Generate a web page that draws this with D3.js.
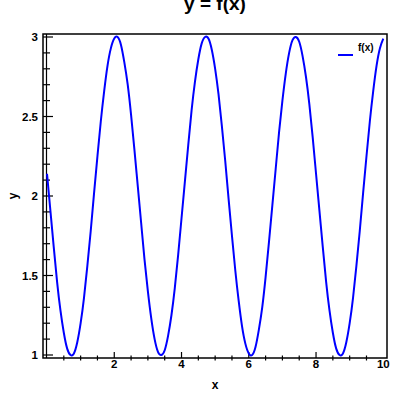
<!DOCTYPE html>
<html>
<head>
<meta charset="utf-8">
<script src="https://cdn.jsdelivr.net/npm/d3@7"></script>
<style>
  body { margin: 0; background: #fff; }
  text { font-family: "Liberation Sans", Arial, sans-serif; font-weight: bold; fill: #000; }
</style>
</head>
<body>
<svg id="chart" width="400" height="400"></svg>
<script>
// values, x step 0.1
const xValues = [0, 0.1, 0.2, 0.3, 0.4, 0.5, 0.6, 0.7, 0.8, 0.9,
  1, 1.1, 1.2, 1.3, 1.4, 1.5, 1.6, 1.7, 1.8, 1.9,
  2, 2.1, 2.2, 2.3, 2.4, 2.5, 2.6, 2.7, 2.8, 2.9,
  3, 3.1, 3.2, 3.3, 3.4, 3.5, 3.6, 3.7, 3.8, 3.9,
  4, 4.1, 4.2, 4.3, 4.4, 4.5, 4.6, 4.7, 4.8, 4.9,
  5, 5.1, 5.2, 5.3, 5.4, 5.5, 5.6, 5.7, 5.8, 5.9,
  6, 6.1, 6.2, 6.3, 6.4, 6.5, 6.6, 6.7, 6.8, 6.9,
  7, 7.1, 7.2, 7.3, 7.4, 7.5, 7.6, 7.7, 7.8, 7.9,
  8, 8.1, 8.2, 8.3, 8.4, 8.5, 8.6, 8.7, 8.8, 8.9,
  9, 9.1, 9.2, 9.3, 9.4, 9.5, 9.6, 9.7, 9.8, 9.9, 10];
const yValues = [2.14, 1.91, 1.68, 1.46, 1.28, 1.14, 1.04, 1.00, 1.01, 1.08,
  1.20, 1.36, 1.56, 1.78, 2.02, 2.25, 2.47, 2.66, 2.82, 2.93,
  2.99, 3.00, 2.95, 2.84, 2.70, 2.51, 2.29, 2.06, 1.83, 1.60,
  1.40, 1.23, 1.10, 1.02, 1.00, 1.03, 1.12, 1.25, 1.42, 1.63,
  1.86, 2.09, 2.32, 2.54, 2.72, 2.86, 2.96, 3.00, 2.99, 2.92,
  2.80, 2.64, 2.44, 2.22, 1.98, 1.75, 1.53, 1.34, 1.18, 1.07,
  1.01, 1.00, 1.05, 1.16, 1.30, 1.49, 1.71, 1.94, 2.17, 2.40,
  2.60, 2.77, 2.90, 2.98, 3.00, 2.97, 2.88, 2.75, 2.58, 2.37,
  2.14, 1.91, 1.68, 1.46, 1.28, 1.14, 1.04, 1.00, 1.01, 1.08,
  1.20, 1.36, 1.56, 1.78, 2.02, 2.25, 2.47, 2.66, 2.82, 2.93, 2.99];
const xTickLabels = [2, 4, 6, 8, 10];
const yTickLabels = [1, 1.5, 2, 2.5, 3];
const seriesName = "f(x)";

const svg = d3.select('#chart');
const frame = { left: 43, right: 387, top: 34, bottom: 358 };

const x = d3.scaleLinear().domain([0, 10]).range([47, 383.3]);
const y = d3.scaleLinear().domain([1, 3]).range([355, 37]);

// plot frame
svg.append('rect')
  .attr('x', frame.left).attr('y', frame.top)
  .attr('width', frame.right - frame.left)
  .attr('height', frame.bottom - frame.top)
  .attr('fill', 'none').attr('stroke', '#000').attr('stroke-width', 1.5);

// inner y axis line
svg.append('line')
  .attr('x1', 46.5).attr('x2', 46.5)
  .attr('y1', frame.top).attr('y2', frame.bottom)
  .attr('stroke', '#000').attr('stroke-width', 1.2);

// y ticks
const yMinor = d3.range(10, 31).map(d => d / 10);
svg.append('g').selectAll('line')
  .data(yMinor)
  .join('line')
  .attr('x1', frame.left)
  .attr('x2', d => yTickLabels.includes(d) ? frame.left + 10 : frame.left + 7)
  .attr('y1', d => y(d)).attr('y2', d => y(d))
  .attr('stroke', '#000').attr('stroke-width', 1.2);

svg.append('g').selectAll('text')
  .data(yTickLabels)
  .join('text')
  .attr('x', 38)
  .attr('y', d => y(d) + 4)
  .attr('text-anchor', 'end')
  .attr('font-size', 11.5)
  .text(d => d);

// x ticks
const xMinor = d3.range(1, 20).map(d => d / 2);
svg.append('g').selectAll('line')
  .data(xMinor)
  .join('line')
  .attr('x1', d => x(d)).attr('x2', d => x(d))
  .attr('y1', d => xTickLabels.includes(d) ? frame.bottom - 6 : frame.bottom - 2.5)
  .attr('y2', d => xTickLabels.includes(d) ? frame.bottom : frame.bottom + 2.5)
  .attr('stroke', '#000').attr('stroke-width', 1.2);

svg.append('g').selectAll('text')
  .data(xTickLabels)
  .join('text')
  .attr('x', d => x(d))
  .attr('y', 368)
  .attr('text-anchor', 'middle')
  .attr('font-size', 11.5)
  .text(d => d);

// curve
const line = d3.line()
  .x((d, i) => x(xValues[i]))
  .y(d => y(d))
  .curve(d3.curveNatural);

svg.append('path')
  .datum(yValues)
  .attr('d', line)
  .attr('fill', 'none')
  .attr('stroke', '#0000ff')
  .attr('stroke-width', 2);

// title and axis labels
svg.append('text')
  .attr('x', (frame.left + frame.right) / 2)
  .attr('y', 10)
  .attr('text-anchor', 'middle')
  .attr('font-size', 19)
  .text('y = f(x)');

svg.append('text')
  .attr('x', (frame.left + frame.right) / 2)
  .attr('y', 389)
  .attr('text-anchor', 'middle')
  .attr('font-size', 12)
  .text('x');

svg.append('text')
  .attr('transform', 'translate(17,196) rotate(-90)')
  .attr('text-anchor', 'middle')
  .attr('font-size', 12)
  .text('y');

// legend
svg.append('line')
  .attr('x1', 338).attr('x2', 353)
  .attr('y1', 55).attr('y2', 55)
  .attr('stroke', '#0000ff').attr('stroke-width', 2);

svg.append('text')
  .attr('x', 358)
  .attr('y', 51)
  .attr('font-size', 10)
  .text(seriesName);
</script>
</body>
</html>
